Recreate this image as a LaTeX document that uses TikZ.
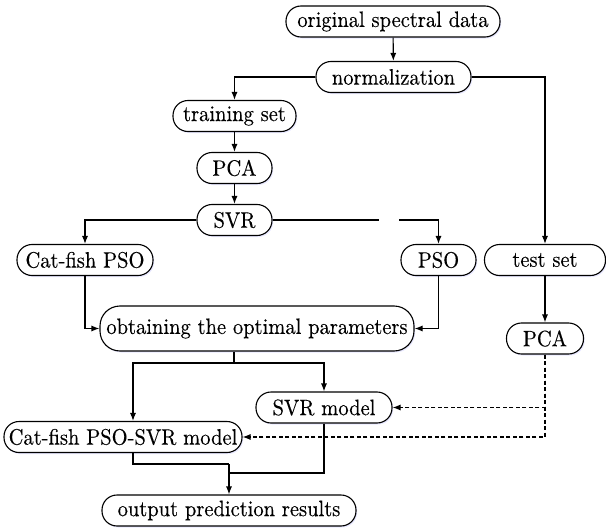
\documentclass[tikz,border=0pt]{standalone}
\usepackage{fontspec}
\setmainfont{lmroman10-regular.otf}[FakeBold=0.25,FakeStretch=0.92]
\usetikzlibrary{arrows.meta,shadows,calc}
\begin{document}
\begin{tikzpicture}[x=1pt,y=-1pt,
  box/.style={draw, line width=1.1pt, rounded corners=15pt, inner xsep=0pt, inner ysep=0pt,
    minimum height=31pt, fill=white,
    drop shadow={shadow xshift=1.2pt, shadow yshift=-1.5pt, fill=blue!30, opacity=0.3},
    font=\fontsize{22.3}{26}\selectfont},
  arr/.style={line width=1.1pt, -{Latex[length=8pt,width=6pt]}},
  ln/.style={line width=1.1pt},
  darr/.style={line width=1.1pt, dash pattern=on 4pt off 2.5pt, -{Latex[length=8pt,width=6pt]}}]
\useasboundingbox (0,0) rectangle (606,530);
\node[box, minimum width=214pt] (orig) at (393,21.5) {original spectral data};
\node[box, minimum width=155pt] (norm) at (393.5,77) {normalization};
\node[box, minimum width=123pt] (train) at (234.5,116) {training set};
\node[box, minimum width=75pt] (pca1) at (234.5,168) {PCA};
\node[box, minimum width=75pt] (svr) at (234.5,220) {SVR};
\node[box, minimum width=136pt] (cfpso) at (85,260) {Cat-fish PSO};
\node[box, minimum width=75pt] (pso) at (438.5,260) {PSO};
\node[box, minimum width=121pt] (test) at (545,260) {test set};
\node[box, minimum width=314pt, minimum height=45pt, rounded corners=20pt] (opt) at (257,328.5) {obtaining the optimal parameters};
\node[box, minimum width=77pt] (pca2) at (545,338.5) {PCA};
\node[box, minimum width=136pt] (svrm) at (324,407.5) {SVR model};
\node[box, minimum width=238pt] (cfsvr) at (123,437) {Cat-fish PSO-SVR model};
\node[box, minimum width=254pt] (out) at (229,510.5) {output prediction results};

\coordinate (gapA) at (379,220);
\coordinate (gapB) at (399,220);
\coordinate (optj) at (234,363);
\coordinate (cl) at (133,363);
\coordinate (bj1) at (229,464);
\coordinate (bj2) at (229,473);

\draw[arr] (orig) -- (norm);
\draw[arr] (norm.west) -| (train.north);
\draw[arr] (norm.east) -| (test.north);
\draw[arr] (train) -- (pca1);
\draw[arr] (pca1) -- (svr);
\draw[arr] (svr.west) -| (cfpso.north);
\draw[ln] (svr.east) -- (gapA);
\draw[arr] (gapB) -| (pso.north);
\draw[arr] (cfpso.south) |- (opt.west);
\draw[arr] (pso.south) |- (opt.east);
\draw[arr] (test) -- (pca2);
\draw[ln] (optj |- opt.south) -- (optj);
\draw[arr] (optj) -| (svrm.north);
\draw[arr] (optj) -- (cl) -- (cl |- cfsvr.north);
\draw[darr] (pca2.south) |- (svrm.east);
\draw[darr] (pca2.south) |- (cfsvr.east);
\draw[ln] (cl |- cfsvr.south) |- (bj1);
\draw[ln] (svrm.south) |- (bj2);
\draw[arr] (bj1) -- (out.north);
\end{tikzpicture}
\end{document}
